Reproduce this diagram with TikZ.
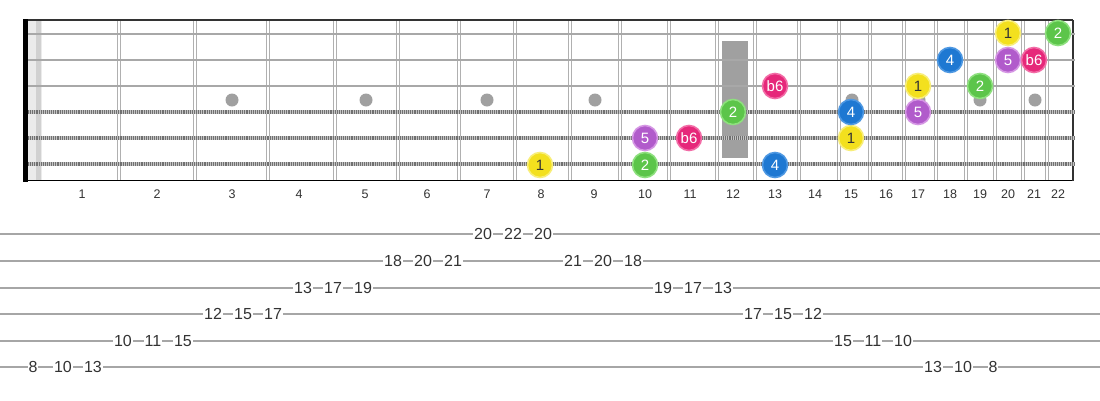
\documentclass[tikz,border=0pt]{standalone}
\usepackage{fontspec}
\setmainfont{Liberation Sans}
\definecolor{fretc}{HTML}{B0B0B0}
\definecolor{strc}{HTML}{A8A8A8}
\definecolor{woundbase}{HTML}{C4C4C4}
\definecolor{woundtick}{HTML}{707070}
\definecolor{inlay}{HTML}{A0A0A0}
\definecolor{tabline}{HTML}{A6A6A6}
\definecolor{txt}{HTML}{333333}
\definecolor{cyel}{HTML}{F3E01E}
\definecolor{cyelb}{HTML}{F8EE78}
\definecolor{cgrn}{HTML}{5CC54A}
\definecolor{cgrnb}{HTML}{8EE07E}
\definecolor{cblu}{HTML}{1E78D2}
\definecolor{cblub}{HTML}{4E98E2}
\definecolor{cpur}{HTML}{B15BCB}
\definecolor{cpurb}{HTML}{D596E4}
\definecolor{cpnk}{HTML}{E6287A}
\definecolor{cpnkb}{HTML}{F26CA6}
\tikzset{
  fretline/.style={draw=fretc, line width=1.5pt},
  plainstr/.style={draw=strc, line width=2.8pt},
  woundstr/.style={draw=woundbase, line width=4pt},
  woundticks/.style={draw=woundtick, line width=4pt, dash pattern=on 1.1pt off 1pt},
  inlaydot/.style={circle, fill=inlay, minimum size=13pt, inner sep=0pt},
  fretnum/.style={font=\fontsize{12.5pt}{13pt}\selectfont, text=txt, inner sep=0pt},
  tabnum/.style={font=\fontsize{16pt}{17pt}\selectfont, text=txt, fill=white, inner sep=1pt},
  note/.style={circle, minimum size=25pt, inner sep=0pt, line width=1.6pt, text=white,
    font=\fontsize{15pt}{16pt}\selectfont},
  n1/.style={note, fill=cyel, draw=cyelb, text=txt},
  n2/.style={note, fill=cgrn, draw=cgrnb},
  n4/.style={note, fill=cblu, draw=cblub},
  n5/.style={note, fill=cpur, draw=cpurb},
  n6/.style={note, fill=cpnk, draw=cpnkb},
}
\begin{document}
\begin{tikzpicture}[x=1pt,y=-1pt]
\useasboundingbox (0,0) rectangle (1100,400);
\fill[white] (0,0) rectangle (1100,400);
% nut area
\fill[black!8] (28,20) rectangle (42,180);
\fill[black!18] (36,20) rectangle (41,180);
% inlays
\foreach \x/\n in {232/3,366/5,487/7,595/9,852/15,919/17,980/19,1035/21}
  \node[inlaydot] (dot\n) at (\x,100) {};
\fill[inlay] (722,41) rectangle (748,158);
% frets
\foreach \x [count=\i] in {119,195,268,335,398,459,515,570,620,669,717,755,799,839,870,904,936,966,995,1023,1047}{
  \draw[fretline] (\x-1.7,20) -- (\x-1.7,180);
  \draw[fretline] (\x+1.7,20) -- (\x+1.7,180);
}
% borders
\draw[draw=black!80, line width=1.8pt] (24,20) -- (1073,20);
\draw[draw=black, line width=1.8pt] (24,180.5) -- (1073,180.5);
\draw[draw=black!80, line width=1.8pt] (1073,20) -- (1073,180.5);
% strings
\foreach \y in {34,60,86}
  \draw[plainstr] (28,\y) -- (1075,\y);
\foreach \y in {111.5,137.5,163.5}{
  \draw[woundstr] (28,\y) -- (1075,\y);
  \draw[woundticks] (28,\y) -- (1075,\y);
}
% nut
\fill[black] (23,19) rectangle (28,181.5);
% fret numbers
\foreach \x [count=\i] in {82,157,232,299,365,427,487,541,594,645,690,733,775,815,851,886,918,950,980,1008,1034,1058}
  \node[fretnum] (fn\i) at (\x,194) {\i};
% notes
\node[n1] (s6a) at (540,165) {1};
\node[n2] (s6b) at (645,165) {2};
\node[n4] (s6c) at (775,165) {4};
\node[n5] (s5a) at (645,138) {5};
\node[n6] (s5b) at (689,138) {b6};
\node[n1] (s5c) at (851,138) {1};
\node[n2] (s4a) at (733,112) {2};
\node[n4] (s4b) at (851,112) {4};
\node[n5] (s4c) at (918,112) {5};
\node[n6] (s3a) at (775,86) {b6};
\node[n1] (s3b) at (918,86) {1};
\node[n2] (s3c) at (980,86) {2};
\node[n4] (s2a) at (950,60) {4};
\node[n5] (s2b) at (1008,60) {5};
\node[n6] (s2c) at (1034,60) {b6};
\node[n1] (s1a) at (1008,33) {1};
\node[n2] (s1b) at (1058,33) {2};
% tab lines
\foreach \y [count=\i] in {234,261,288,314,341,367}
  \draw[draw=tabline, line width=1.6pt] (0,\y) -- (1100,\y);
% tab numbers
\foreach \v/\k in {8/0,10/1,13/2}        \node[tabnum] (ta\k) at (33+30*\k,367) {\v};
\foreach \v/\k in {10/3,11/4,15/5}       \node[tabnum] (ta\k) at (33+30*\k,341) {\v};
\foreach \v/\k in {12/6,15/7,17/8}       \node[tabnum] (ta\k) at (33+30*\k,314) {\v};
\foreach \v/\k in {13/9,17/10,19/11}     \node[tabnum] (ta\k) at (33+30*\k,288) {\v};
\foreach \v/\k in {18/12,20/13,21/14}    \node[tabnum] (ta\k) at (33+30*\k,261) {\v};
\foreach \v/\k in {20/15,22/16,20/17}    \node[tabnum] (ta\k) at (33+30*\k,234) {\v};
\foreach \v/\k in {21/18,20/19,18/20}    \node[tabnum] (ta\k) at (33+30*\k,261) {\v};
\foreach \v/\k in {19/21,17/22,13/23}    \node[tabnum] (ta\k) at (33+30*\k,288) {\v};
\foreach \v/\k in {17/24,15/25,12/26}    \node[tabnum] (ta\k) at (33+30*\k,314) {\v};
\foreach \v/\k in {15/27,11/28,10/29}    \node[tabnum] (ta\k) at (33+30*\k,341) {\v};
\foreach \v/\k in {13/30,10/31,8/32}     \node[tabnum] (ta\k) at (33+30*\k,367) {\v};
\end{tikzpicture}
\end{document}
